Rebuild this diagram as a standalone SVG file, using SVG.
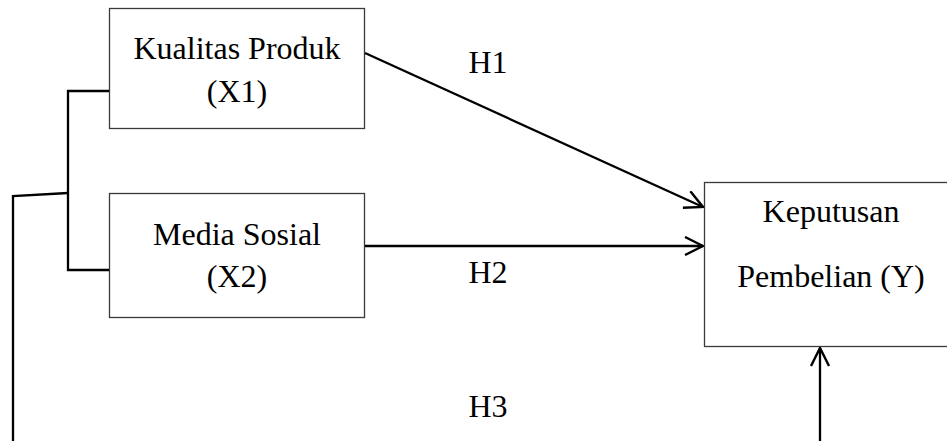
<svg xmlns="http://www.w3.org/2000/svg" width="947" height="441" viewBox="0 0 947 441">
<defs>
<style>
.box{fill:#fff;stroke:#3a3a3a;stroke-width:1.3}
.t{font-family:"Liberation Serif","Times New Roman",serif;font-size:32px;fill:#000;text-anchor:middle}
.ln{fill:none;stroke:#000;stroke-width:2.3}
</style>
<marker id="ah" viewBox="0 0 20 20" refX="19" refY="10" markerWidth="20" markerHeight="20" markerUnits="userSpaceOnUse" orient="auto">
<path d="M1,1 L19,10 L1,19" fill="none" stroke="#000" stroke-width="2.4"/>
</marker>
</defs>
<rect width="947" height="441" fill="#fff"/>
<g id="x1">
<rect class="box" x="109.5" y="8.5" width="255" height="120"/>
<text class="t" x="237" y="59">Kualitas Produk</text>
<text class="t" x="237" y="102">(X1)</text>
</g>
<g id="x2">
<rect class="box" x="109.5" y="193.5" width="255" height="124"/>
<text class="t" x="237" y="245">Media Sosial</text>
<text class="t" x="237" y="287">(X2)</text>
</g>
<g id="y">
<rect class="box" x="704.5" y="182.5" width="260" height="164"/>
<text class="t" x="831" y="222">Keputusan</text>
<text class="t" x="831" y="287">Pembelian (Y)</text>
</g>
<g id="connectors">
<line class="ln" x1="365" y1="53" x2="703" y2="207" marker-end="url(#ah)"/>
<line class="ln" x1="365" y1="246" x2="703" y2="246" marker-end="url(#ah)"/>
<polyline class="ln" points="109,91 68,91 68,270 109,270"/>
<polyline class="ln" points="68,193 13,196 13,441"/>
<line class="ln" x1="820" y1="441" x2="820" y2="348" marker-end="url(#ah)"/>
</g>
<g id="labels">
<text class="t" x="488" y="73">H1</text>
<text class="t" x="488" y="283">H2</text>
<text class="t" x="488" y="417">H3</text>
</g>
</svg>
